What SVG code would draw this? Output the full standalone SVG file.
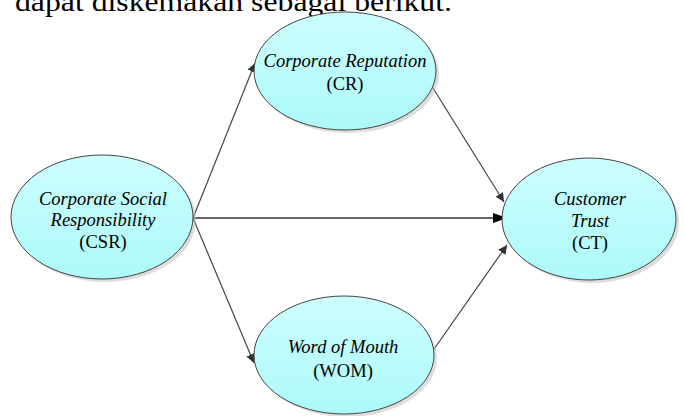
<svg xmlns="http://www.w3.org/2000/svg" width="684" height="416" viewBox="0 0 684 416">
<defs>
<linearGradient id="g" x1="0" y1="0" x2="0" y2="1">
<stop offset="0" stop-color="#cdfefe"/>
<stop offset="1" stop-color="#adf9f9"/>
</linearGradient>
<marker id="ah" viewBox="0 0 10 10" refX="10" refY="5" markerWidth="9" markerHeight="9" markerUnits="userSpaceOnUse" orient="auto">
<path d="M0,0 L10,5 L0,10 z" fill="#333"/>
</marker>
<marker id="ahb" viewBox="0 0 10 10" refX="10" refY="5" markerWidth="14" markerHeight="14" markerUnits="userSpaceOnUse" orient="auto">
<path d="M0,1.5 L10,5 L0,8.5 z" fill="#000"/>
</marker>
</defs>
<style>
.n{fill:url(#g);stroke:#444;stroke-width:1}
.sh{fill:#bbb;opacity:0.5}
.c{stroke:#444;stroke-width:1.2;fill:none;marker-end:url(#ah)}
</style>
<rect width="684" height="416" fill="#fff"/>
<text x="15" y="11" font-family="Liberation Serif, serif" font-size="28" textLength="437" lengthAdjust="spacingAndGlyphs">dapat diskemakan sebagai berikut.</text>
<g id="connectors">
<line class="c" x1="193" y1="218" x2="255" y2="63"/>
<line class="c" x1="193" y1="218" x2="254" y2="363"/>
<line x1="193" y1="218" x2="507" y2="218" stroke="#333" stroke-width="1.5" marker-end="url(#ahb)"/>
<line class="c" x1="428" y1="80" x2="504" y2="202"/>
<line class="c" x1="432" y1="352" x2="507" y2="245"/>
</g>
<g id="CR">
<ellipse class="sh" cx="348" cy="74" rx="91" ry="59"/>
<ellipse class="n" cx="345" cy="71" rx="91" ry="59"/>
<text font-family="Liberation Serif, serif" font-size="18.5" text-anchor="middle" font-style="italic" x="345" y="67">Corporate Reputation</text>
<text font-family="Liberation Serif, serif" font-size="18.5" text-anchor="middle" x="345" y="90">(CR)</text>
</g>
<g id="CSR">
<ellipse class="sh" cx="105" cy="220" rx="91" ry="62"/>
<ellipse class="n" cx="102" cy="217" rx="91" ry="62"/>
<text font-family="Liberation Serif, serif" font-size="18.5" text-anchor="middle" font-style="italic" x="103" y="205">Corporate Social</text>
<text font-family="Liberation Serif, serif" font-size="18.5" text-anchor="middle" font-style="italic" x="103" y="226">Responsibility</text>
<text font-family="Liberation Serif, serif" font-size="18.5" text-anchor="middle" x="103" y="248">(CSR)</text>
</g>
<g id="CT">
<ellipse class="sh" cx="592" cy="222" rx="87" ry="61"/>
<ellipse class="n" cx="589" cy="219" rx="87" ry="61"/>
<text font-family="Liberation Serif, serif" font-size="18.5" text-anchor="middle" font-style="italic" x="590" y="205">Customer</text>
<text font-family="Liberation Serif, serif" font-size="18.5" text-anchor="middle" font-style="italic" x="590" y="227">Trust</text>
<text font-family="Liberation Serif, serif" font-size="18.5" text-anchor="middle" x="590" y="249">(CT)</text>
</g>
<g id="WOM">
<ellipse class="sh" cx="347" cy="358" rx="90" ry="59"/>
<ellipse class="n" cx="344" cy="355" rx="90" ry="59"/>
<text font-family="Liberation Serif, serif" font-size="18.5" text-anchor="middle" font-style="italic" x="343" y="353">Word of Mouth</text>
<text font-family="Liberation Serif, serif" font-size="18.5" text-anchor="middle" x="343" y="377">(WOM)</text>
</g>
</svg>
